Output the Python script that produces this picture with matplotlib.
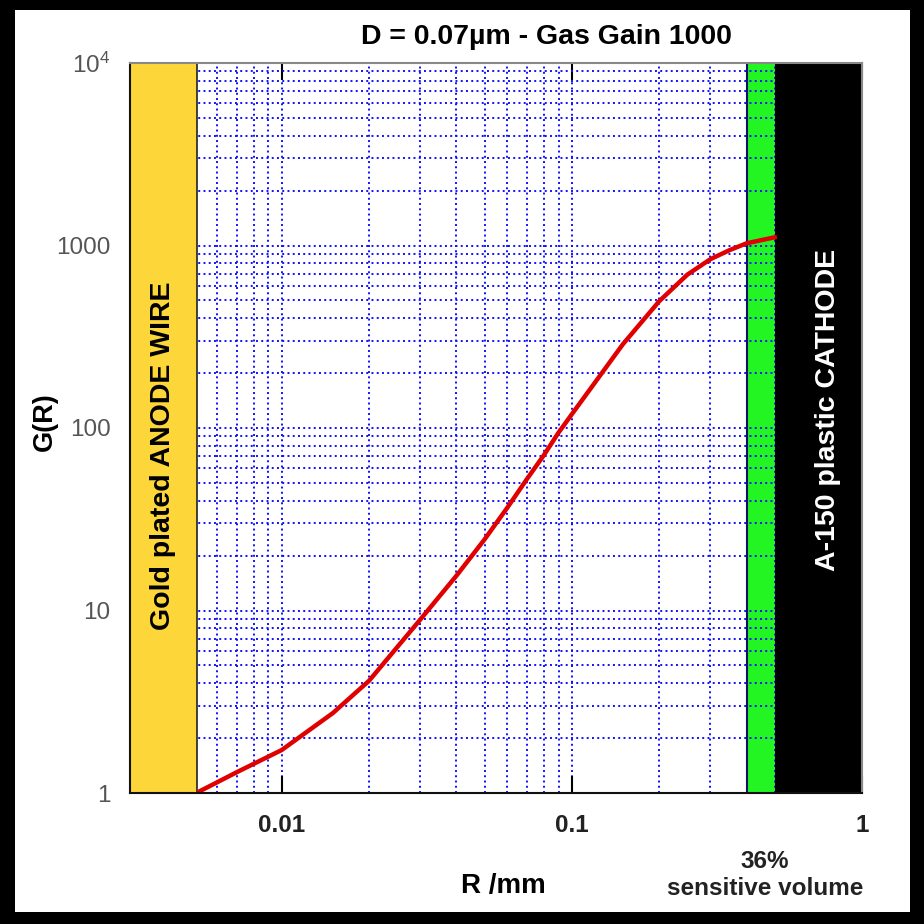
import numpy as np
import matplotlib
matplotlib.use('Agg')
import matplotlib.pyplot as plt
from matplotlib.patches import Rectangle

plt.rcParams['font.family'] = ['Liberation Sans', 'DejaVu Sans']

# data
r_mm = [0.0052, 0.007, 0.01, 0.015, 0.02, 0.03, 0.04, 0.05, 0.06, 0.07,
        0.08, 0.09, 0.1, 0.15, 0.2, 0.25, 0.3, 0.35, 0.4, 0.5]
gain = [1.02, 1.30, 1.72, 2.74, 4.12, 8.9, 15.5, 24.5, 36.7, 52.5,
        70.8, 94.4, 119, 288, 495, 692, 841, 944, 1028, 1109]

anode_r = 0.0051     # wire surface
sens_r = [0.4, 0.5]  # sensitive volume band
cathode_r = [0.5, 1.0]
x_lim = [0.003, 1.0]
y_lim = [1, 1e4]

x_ticks = [0.01, 0.1, 1]
x_ticklabels = ['0.01', '0.1', '1']
y_ticks = [1, 10, 100, 1000, 1e4]
y_ticklabels = ['1', '10', '100', '1000', r'$\mathregular{10^4}$']

fig = plt.figure(figsize=(9.24, 9.24), dpi=100, facecolor='black')
# white page inside black border
fig.patches.append(Rectangle((15/924, 12/924), (910-15)/924, (914-12)/924,
                             transform=fig.transFigure, facecolor='white',
                             edgecolor='none', zorder=-10))

ax = fig.add_axes([130/924, 131/924, 732/924, 730/924])
ax.set_xscale('log')
ax.set_yscale('log')
ax.set_xlim(x_lim)
ax.set_ylim(y_lim)

ax.grid(True, which='both', color='#1010ff', linestyle=(0, (1, 1.7)), linewidth=1.4, zorder=1)
ax.set_axisbelow(True)

ax.axvspan(x_lim[0], anode_r, facecolor='#fdd63a', edgecolor='#222222', linewidth=1.2, zorder=3)
ax.axvspan(sens_r[0], sens_r[1], facecolor='#22f522', edgecolor='none', zorder=0.5)
ax.axvline(sens_r[0], color='#111166', linewidth=1.5, zorder=2)
ax.axvspan(cathode_r[0], cathode_r[1], facecolor='black', edgecolor='none', zorder=3)

ax.plot(r_mm, gain, color='#e00000', linewidth=3.2, zorder=4, solid_joinstyle='round')

ax.text(0.00389, 10**1.85, 'Gold plated ANODE WIRE', rotation=90,
        ha='center', va='center', fontsize=20.5, fontweight='bold', color='black', zorder=5)
ax.text(0.763, 10**2.1, 'A-150 plastic CATHODE', rotation=90,
        ha='center', va='center', fontsize=20.5, fontweight='bold', color='white', zorder=5)

ax.set_xticks(x_ticks)
ax.set_xticklabels(x_ticklabels, fontsize=17.5, fontweight='bold', color='#222222')
ax.set_yticks(y_ticks)
ax.set_yticklabels(y_ticklabels, fontsize=17.5, color='#555555')
ax.xaxis.set_minor_locator(matplotlib.ticker.LogLocator(subs=np.arange(2, 10)))
ax.yaxis.set_minor_locator(matplotlib.ticker.LogLocator(subs=np.arange(2, 10)))
ax.tick_params(which='minor', length=0)
ax.tick_params(axis='x', which='major', direction='in', length=12, width=1.5,
               top=True, pad=15)
ax.tick_params(axis='y', which='major', length=0, pad=14)

for s in ['left', 'bottom']:
    ax.spines[s].set_color('#111111')
    ax.spines[s].set_linewidth(1.5)
for s in ['top', 'right']:
    ax.spines[s].set_color('#888888')
    ax.spines[s].set_linewidth(1.5)
for s in ax.spines.values():
    s.set_zorder(6)

fig.text(546/924, 1 - 37/924, 'D = 0.07µm - Gas Gain 1000', ha='center', va='center',
         fontsize=20.5, fontweight='bold')
ax.set_xlabel('R /mm', fontsize=20, fontweight='bold')
ax.xaxis.set_label_coords((503-130)/732, -(886-793)/730, transform=ax.transAxes)
ax.xaxis.label.set_va('center')
ax.set_ylabel('G(R)', fontsize=19.5, fontweight='bold')
ax.yaxis.set_label_coords((45-130)/732, (793-422)/730)
ax.yaxis.label.set_va('center')

fig.text(765/924, 1 - 875/924, '36%\nsensitive volume', ha='center', va='center',
         fontsize=17.5, fontweight='bold', color='#222222', linespacing=1.2)

fig.savefig('out.png', dpi=100, facecolor=fig.get_facecolor())
